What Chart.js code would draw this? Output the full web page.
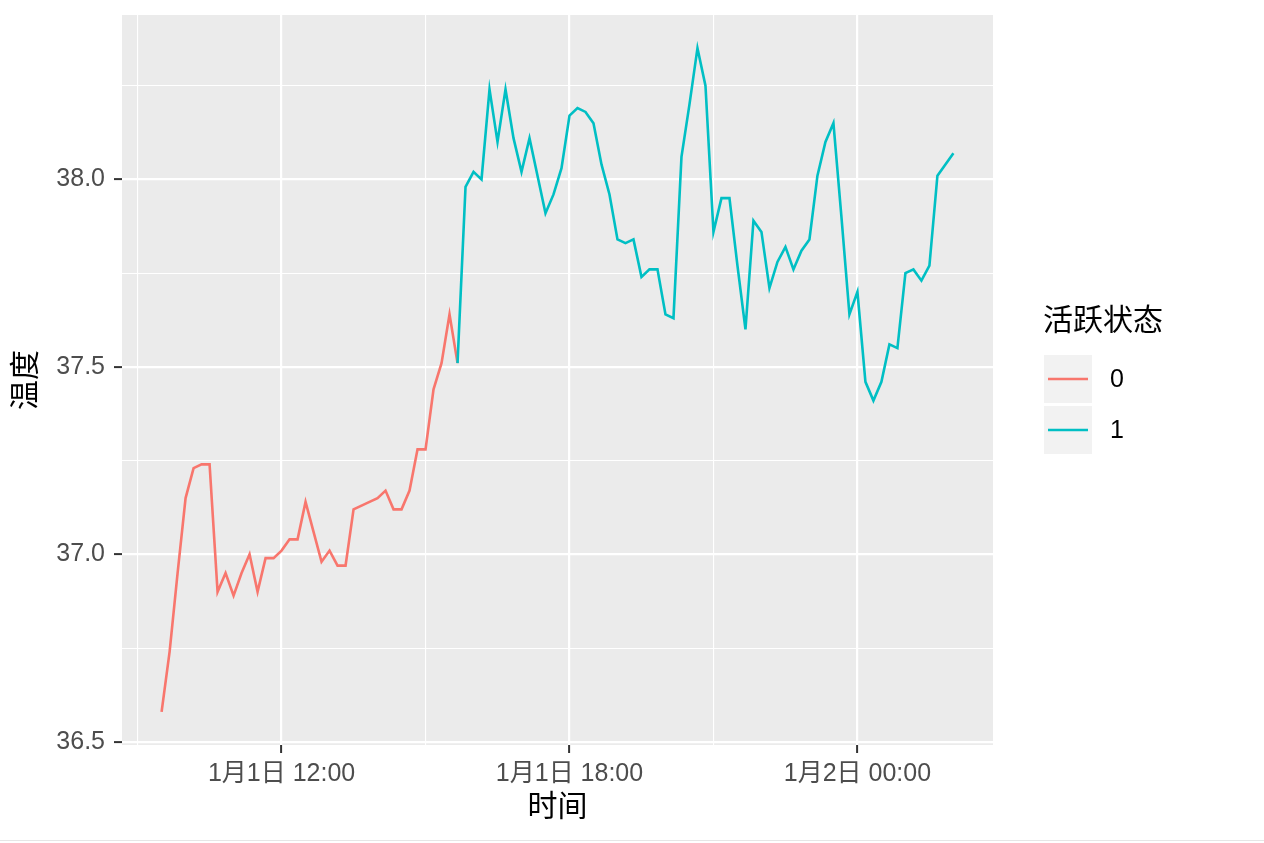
<!DOCTYPE html>
<html>
<head>
<meta charset="utf-8">
<script src="https://cdn.jsdelivr.net/npm/chart.js@4"></script>
<style>
html,body{margin:0;padding:0;background:#ffffff;}
#wrap{width:1264px;height:843px;position:relative;overflow:hidden;}
canvas{display:block;}
#edge{position:absolute;left:0;top:840px;width:1264px;height:1px;background:#e6e6e6;}
</style>
</head>
<body>
<div id="wrap"><canvas id="c" width="1264" height="843"></canvas><div id="edge"></div></div>
<script>
// ---- data ----
const times = [
  '01-01 09:30','01-01 09:40','01-01 09:50',
  '01-01 10:00','01-01 10:10','01-01 10:20','01-01 10:30','01-01 10:40','01-01 10:50',
  '01-01 11:00','01-01 11:10','01-01 11:20','01-01 11:30','01-01 11:40','01-01 11:50',
  '01-01 12:00','01-01 12:10','01-01 12:20','01-01 12:30','01-01 12:40','01-01 12:50',
  '01-01 13:00','01-01 13:10','01-01 13:20','01-01 13:30','01-01 13:40','01-01 13:50',
  '01-01 14:00','01-01 14:10','01-01 14:20','01-01 14:30','01-01 14:40','01-01 14:50',
  '01-01 15:00','01-01 15:10','01-01 15:20','01-01 15:30','01-01 15:40','01-01 15:50',
  '01-01 16:00','01-01 16:10','01-01 16:20','01-01 16:30','01-01 16:40','01-01 16:50',
  '01-01 17:00','01-01 17:10','01-01 17:20','01-01 17:30','01-01 17:40','01-01 17:50',
  '01-01 18:00','01-01 18:10','01-01 18:20','01-01 18:30','01-01 18:40','01-01 18:50',
  '01-01 19:00','01-01 19:10','01-01 19:20','01-01 19:30','01-01 19:40','01-01 19:50',
  '01-01 20:00','01-01 20:10','01-01 20:20','01-01 20:30','01-01 20:40','01-01 20:50',
  '01-01 21:00','01-01 21:10','01-01 21:20','01-01 21:30','01-01 21:40','01-01 21:50',
  '01-01 22:00','01-01 22:10','01-01 22:20','01-01 22:30','01-01 22:40','01-01 22:50',
  '01-01 23:00','01-01 23:10','01-01 23:20','01-01 23:30','01-01 23:40','01-01 23:50',
  '01-02 00:00','01-02 00:10','01-02 00:20','01-02 00:30','01-02 00:40','01-02 00:50',
  '01-02 01:00','01-02 01:10','01-02 01:20','01-02 01:30','01-02 01:40','01-02 01:50',
  '01-02 02:00'
];
const temps = [
  36.58,36.74,36.95,37.15,37.23,37.24,37.24,36.90,36.95,36.89,
  36.95,37.00,36.90,36.99,36.99,37.01,37.04,37.04,37.14,37.06,
  36.98,37.01,36.97,36.97,37.12,37.13,37.14,37.15,37.17,37.12,
  37.12,37.17,37.28,37.28,37.44,37.51,37.64,37.51,37.98,38.02,
  38.00,38.24,38.10,38.24,38.11,38.02,38.11,38.01,37.91,37.96,
  38.03,38.17,38.19,38.18,38.15,38.04,37.96,37.84,37.83,37.84,
  37.74,37.76,37.76,37.64,37.63,38.06,38.20,38.35,38.25,37.86,
  37.95,37.95,37.77,37.60,37.89,37.86,37.71,37.78,37.82,37.76,
  37.81,37.84,38.01,38.10,38.15,37.90,37.64,37.70,37.46,37.41,
  37.46,37.56,37.55,37.75,37.76,37.73,37.77,38.01,38.04,38.07
];
const states = [
  0,0,0,0,0,0,0,0,0,0,
  0,0,0,0,0,0,0,0,0,0,
  0,0,0,0,0,0,0,0,0,0,
  0,0,0,0,0,0,0,1,1,1,
  1,1,1,1,1,1,1,1,1,1,
  1,1,1,1,1,1,1,1,1,1,
  1,1,1,1,1,1,1,1,1,1,
  1,1,1,1,1,1,1,1,1,1,
  1,1,1,1,1,1,1,1,1,1,
  1,1,1,1,1,1,1,1,1,1
];
const stateLabels = ['0','1'];
const stateColors = ['#F8766D','#00BFC4'];
const xTickValues = ['01-01 09:00','01-01 12:00','01-01 15:00','01-01 18:00','01-01 21:00','01-02 00:00'];
const xTickLabels = ['','1月1日 12:00','','1月1日 18:00','','1月2日 00:00'];
const yTickValues = [36.5,36.75,37.0,37.25,37.5,37.75,38.0,38.25];
const yTickLabels = ['36.5','','37.0','','37.5','','38.0',''];
const xTitle = '时间';
const yTitle = '温度';
const legendTitle = '活跃状态';

// ---- helpers ----
const FONT = '"Liberation Sans", "Noto Sans CJK SC", sans-serif';
function toMin(s){
  const parts = s.split(' ');
  const day = Number(parts[0].split('-')[1]);
  const hm = parts[1].split(':').map(Number);
  return (day-1)*1440 + hm[0]*60 + hm[1];
}
const pts = times.map((t,i)=>({x:toMin(t), y:temps[i]}));
const xs = pts.map(p=>p.x);
const xMin = Math.min(...xs), xMax = Math.max(...xs);
const yMin = Math.min(...temps), yMax = Math.max(...temps);
const ex = (xMax-xMin)*0.05, ey = (yMax-yMin)*0.05;

const panelBg = {
  id:'panelBg',
  beforeDraw(chart){
    const {ctx, chartArea:a} = chart;
    ctx.save();
    ctx.fillStyle = '#EBEBEB';
    ctx.fillRect(a.left, a.top, a.right-a.left, a.bottom-a.top);
    ctx.restore();
  }
};
const ggLegend = {
  id:'ggLegend',
  afterDraw(chart){
    const ctx = chart.ctx;
    ctx.save();
    ctx.textBaseline = 'middle';
    ctx.textAlign = 'left';
    ctx.fillStyle = '#000000';
    ctx.font = '30px ' + FONT;
    ctx.fillText(legendTitle, 1043, 322);
    stateLabels.forEach((lab,k)=>{
      const top = 355 + k*51;
      ctx.fillStyle = '#F2F2F2';
      ctx.fillRect(1044, top, 48, 48);
      ctx.strokeStyle = stateColors[k];
      ctx.lineWidth = 2.6;
      ctx.beginPath();
      ctx.moveTo(1048, top+24);
      ctx.lineTo(1088, top+24);
      ctx.stroke();
      ctx.fillStyle = '#000000';
      ctx.font = '25px ' + FONT;
      ctx.fillText(lab, 1110, top+25);
    });
    ctx.restore();
  }
};

new Chart(document.getElementById('c'), {
  type:'line',
  data:{
    datasets:[{
      data: pts,
      borderWidth: 2.6,
      pointRadius: 0,
      tension: 0,
      fill: false,
      borderColor: stateColors[1],
      segment:{ borderColor: c => stateColors[states[c.p0DataIndex]] }
    }]
  },
  options:{
    responsive:false,
    animation:false,
    layout:{ padding:{ top:15, right:271, left:0, bottom:0 } },
    plugins:{ legend:{display:false}, tooltip:{enabled:false} },
    scales:{
      x:{
        type:'linear',
        min: xMin-ex, max: xMax+ex,
        afterBuildTicks(s){ s.ticks = xTickValues.map(v=>({value:toMin(v)})); },
        afterFit(s){ s.height = 98; s.paddingLeft = 0; s.paddingRight = 0; },
        ticks:{ autoSkip:false, maxRotation:0, minRotation:0, color:'#4D4D4D',
                font:{family:FONT, size:25}, padding:6,
                callback:(v,i)=>xTickLabels[i] },
        grid:{ color:'#FFFFFF', lineWidth:c=> xTickLabels[c.index] ? 2.2 : 1.1,
               tickLength:8, tickWidth:2,
               tickColor:c=> xTickLabels[c.index] ? '#333333' : 'rgba(0,0,0,0)' },
        border:{display:false},
        title:{display:true, text:xTitle, color:'#000000',
               font:{family:FONT, size:30, lineHeight:1}, padding:{top:0,bottom:20}}
      },
      y:{
        type:'linear',
        min: yMin-ey, max: yMax+ey,
        afterBuildTicks(s){ s.ticks = yTickValues.map(v=>({value:v})); },
        afterFit(s){ s.width = 122; s.paddingTop = 0; s.paddingBottom = 0; },
        ticks:{ autoSkip:false, color:'#4D4D4D', font:{family:FONT, size:25}, padding:9,
                callback:(v,i)=>yTickLabels[i] },
        grid:{ color:'#FFFFFF', lineWidth:c=> yTickLabels[c.index] ? 2.2 : 1.1,
               tickLength:8, tickWidth:2,
               tickColor:c=> yTickLabels[c.index] ? '#333333' : 'rgba(0,0,0,0)' },
        border:{display:false},
        title:{display:true, text:yTitle, color:'#000000',
               font:{family:FONT, size:30, lineHeight:1}, padding:{top:12,bottom:0}}
      }
    }
  },
  plugins:[panelBg, ggLegend]
});
</script>
</body>
</html>
